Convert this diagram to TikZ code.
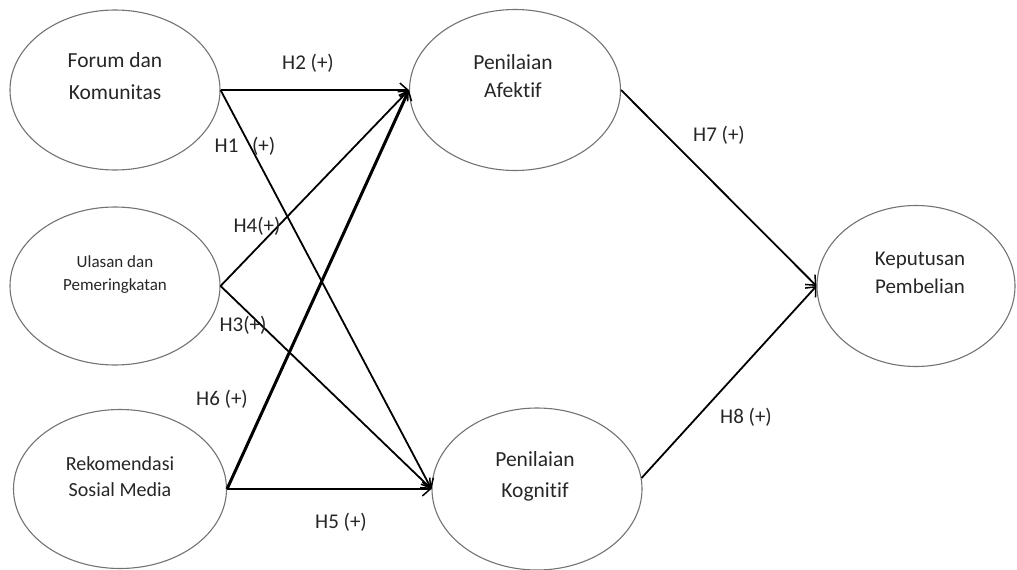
\documentclass[tikz,border=0pt]{standalone}
\usepackage{fontspec}
\setmainfont{Carlito}[Ligatures=NoCommon]
\usetikzlibrary{arrows.meta,shapes.geometric,positioning}

\begin{document}
\begin{tikzpicture}[x=1pt, y=-1pt,
    var/.style={draw=black!55, line width=1.1pt, ellipse, minimum width=210pt, minimum height=160pt, inner sep=0pt},
    txt/.style={align=center, text=black!85, inner sep=0pt, font=\fontsize{21.5}{30}\selectfont},
    lbl/.style={text=black!85, inner sep=0pt, font=\fontsize{21}{24}\selectfont},
    arr/.style={-{Straight Barb[length=8pt, width=14pt, line width=1.5pt]}, line width=1.8pt}
]
\useasboundingbox (0,0) rectangle (1017,570);

\node[var] (forum) at (115,90) {};
\node[var, minimum height=158pt] (ulasan) at (115,286) {};
\node[var, minimum width=213pt, minimum height=159pt] (rekom) at (120,489) {};
\node[var, minimum width=211pt, minimum height=161pt] (afektif) at (515,90) {};
\node[var, minimum height=162pt] (kognitif) at (537,489) {};
\node[var, minimum width=198pt, minimum height=161pt] (keputusan) at (916,286) {};

\node[txt, font=\fontsize{21.5}{32}\selectfont] (forumtxt) at (115,76) {Forum dan\\Komunitas};
\node[txt, font=\fontsize{17}{23}\selectfont] (ulasantxt) at (115,275) {Ulasan dan\\Pemeringkatan};
\node[txt, font=\fontsize{20}{26}\selectfont] (rekomtxt) at (120,477) {Rekomendasi\\Sosial Media};
\node[txt, font=\fontsize{21.5}{28}\selectfont] (afektiftxt) at (513,76) {Penilaian\\Afektif};
\node[txt, font=\fontsize{21.5}{31}\selectfont] (kognitiftxt) at (535,476) {Penilaian\\Kognitif};
\node[txt, font=\fontsize{21}{28}\selectfont] (keputusantxt) at (920,273) {Keputusan\\Pembelian};

\draw[arr] (forum.east) -- (afektif.west);
\draw[arr] (forum.east) -- (kognitif.west);
\draw[arr] (ulasan.east) -- (afektif.west);
\draw[arr] (ulasan.east) -- (kognitif.west);
\draw[arr, line width=3pt] (rekom.east) -- (afektif.west);
\draw[arr] (rekom.east) -- (kognitif.west);
\draw[arr] (afektif.east) -- (keputusan.west);
\draw[arr] (kognitif.6) -- (keputusan.west);

\node[lbl] (h2) at (308,63) {H2 (+)};
\node[lbl] (h1) at (245,146) {H1\hspace{9pt} (+)};
\node[lbl] (h4) at (257,226) {H4(+)};
\node[lbl] (h3) at (243,325) {H3(+)};
\node[lbl] (h6) at (222,399) {H6 (+)};
\node[lbl] (h5) at (341,522) {H5 (+)};
\node[lbl] (h7) at (719,135) {H7 (+)};
\node[lbl] (h8) at (746,417) {H8 (+)};
\end{tikzpicture}
\end{document}
